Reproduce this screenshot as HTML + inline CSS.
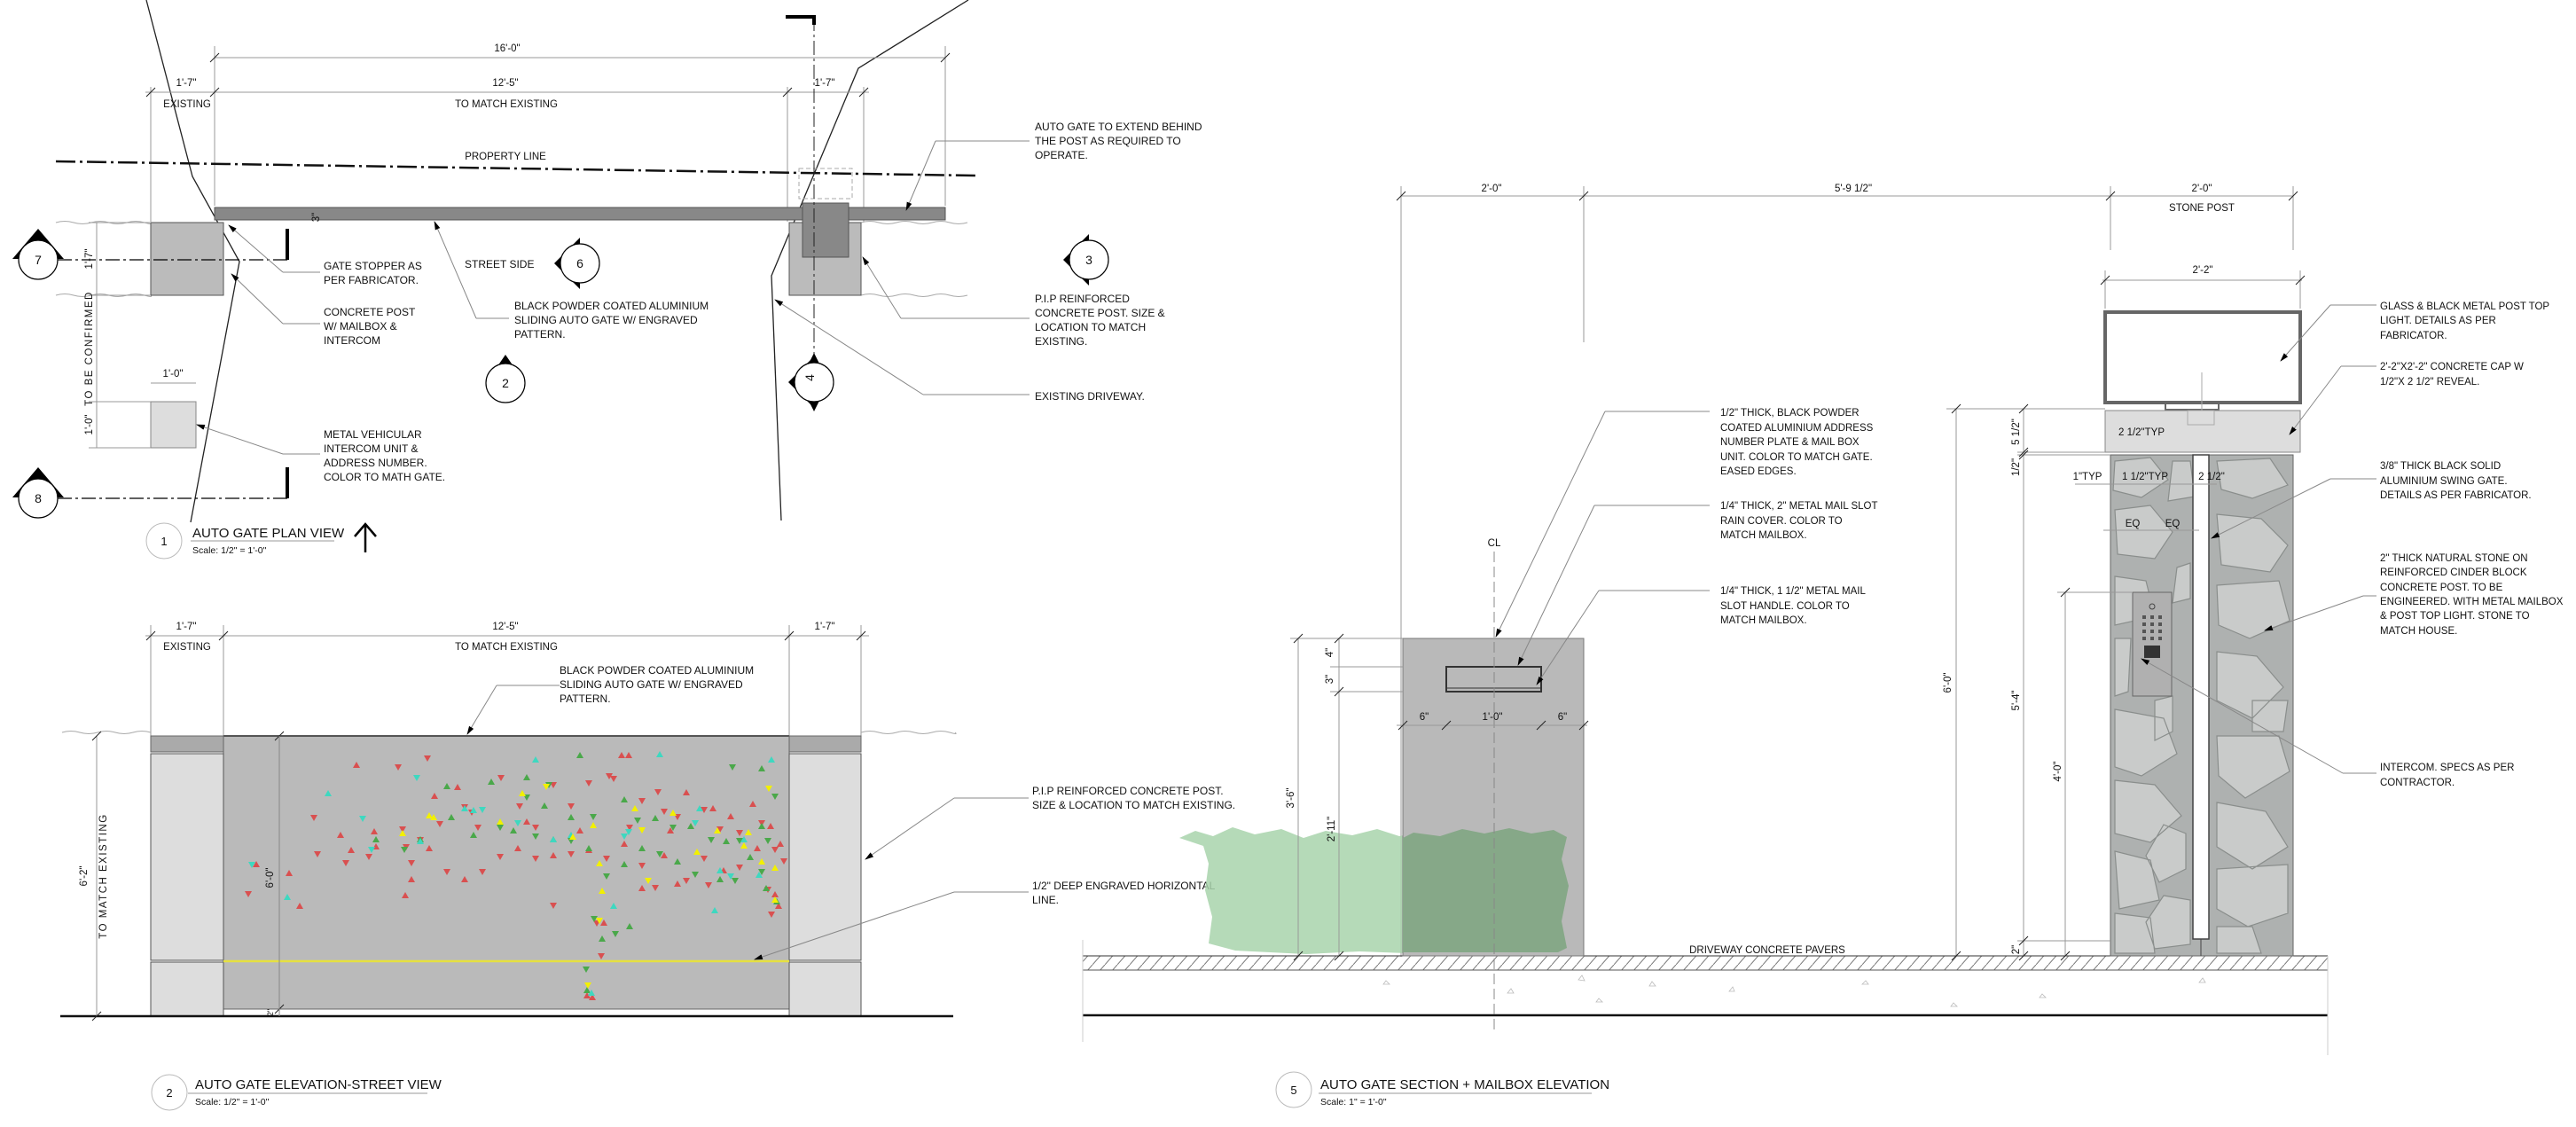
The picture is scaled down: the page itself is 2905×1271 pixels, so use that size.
<!DOCTYPE html>
<html><head><meta charset="utf-8"><style>
html,body{margin:0;padding:0;background:#fff;}
svg{display:block;}
text{font-family:"Liberation Sans Narrow","Liberation Sans",sans-serif;fill:#111;}
.t{font-size:12px;}
.s{font-size:11.5px;}
.d{font-size:11.5px;}
.ti{font-size:15px;}
</style></head><body>
<svg width="2905" height="1271" viewBox="0 0 2905 1271" xmlns="http://www.w3.org/2000/svg">
<defs>
<marker id="ar" viewBox="0 0 10 10" refX="9" refY="5" markerWidth="10" markerHeight="10" orient="auto-start-reverse"><path d="M0,2 L10,5 L0,8z" fill="#000"/></marker>
<pattern id="hatch" width="14" height="16" patternUnits="userSpaceOnUse"><path d="M0,16 L14,0" stroke="#777" stroke-width="1"/></pattern>
</defs>

<!-- ================= PLAN VIEW ================= -->
<g stroke="#222" fill="none" stroke-width="1">
<polyline points="165,0 217,199 270,295 215,589" stroke-width="1.3"/>
<polyline points="1092,0 968,77 870,311 881,587" stroke-width="1.3"/>
</g>
<g stroke="#999" stroke-width="1" fill="none">
<line x1="242" y1="52" x2="242" y2="232"/><line x1="1066" y1="52" x2="1066" y2="232"/>
<line x1="170" y1="98" x2="170" y2="250"/><line x1="888" y1="98" x2="888" y2="250"/><line x1="974" y1="98" x2="974" y2="250"/>
<line x1="242" y1="65" x2="1066" y2="65"/>
<line x1="164" y1="104" x2="980" y2="104"/>
</g>
<g stroke="#222" stroke-width="1">
<line x1="237" y1="70" x2="247" y2="60"/><line x1="1061" y1="70" x2="1071" y2="60"/>
<line x1="165" y1="109" x2="175" y2="99"/><line x1="237" y1="109" x2="247" y2="99"/><line x1="883" y1="109" x2="893" y2="99"/><line x1="969" y1="109" x2="979" y2="99"/>
</g>
<text class="d" x="572" y="58" text-anchor="middle">16'-0"</text>
<text class="d" x="210" y="97" text-anchor="middle">1'-7"</text>
<text class="d" x="211" y="121" text-anchor="middle">EXISTING</text>
<text class="d" x="570" y="97" text-anchor="middle">12'-5"</text>
<text class="d" x="571" y="121" text-anchor="middle">TO MATCH EXISTING</text>
<text class="d" x="930" y="97" text-anchor="middle">1'-7"</text>
<line x1="63" y1="182" x2="1101" y2="198" stroke="#111" stroke-width="2.5" stroke-dasharray="22,5,3,5"/>
<text class="d" x="570" y="180" text-anchor="middle">PROPERTY LINE</text>
<g stroke="#aaa" stroke-width="1" fill="none">
<path d="M63,251 q10,-3 20,0 t20,0 t20,0 t20,0 t20,0 t7,0"/>
<path d="M63,333 q10,-3 20,0 t20,0 t20,0 t20,0 t20,0 t7,0"/>
<path d="M971,251 q10,-3 20,0 t20,0 t20,0 t20,0 t20,0 t20,0"/>
<path d="M971,333 q10,-3 20,0 t20,0 t20,0 t20,0 t20,0 t20,0"/>
</g>
<rect x="170" y="251" width="82" height="82" fill="#bbb" stroke="#555"/>
<rect x="890" y="251" width="81" height="82" fill="#bbb" stroke="#555"/>
<rect x="901" y="190" width="60" height="34" fill="none" stroke="#aaa" stroke-dasharray="5,3"/>
<rect x="242" y="234" width="824" height="14" fill="#888" stroke="#555"/>
<rect x="905" y="229" width="52" height="61" fill="#888" stroke="#555"/>
<text class="d" x="360" y="245" transform="rotate(-90 360 245)" text-anchor="middle">3"</text>
<line x1="918" y1="19" x2="918" y2="420" stroke="#222" stroke-width="1" stroke-dasharray="16,4,3,4"/>
<polyline points="886,19 918,19 918,28" fill="none" stroke="#000" stroke-width="4"/>
<rect x="170" y="453" width="51" height="52" fill="#ddd" stroke="#888"/>
<line x1="170" y1="432" x2="221" y2="432" stroke="#999"/>
<text class="d" x="195" y="425" text-anchor="middle">1'-0"</text>
<line x1="109" y1="251" x2="109" y2="505" stroke="#999"/>
<g stroke="#999"><line x1="100" y1="251" x2="170" y2="251"/><line x1="100" y1="333" x2="170" y2="333"/><line x1="100" y1="453" x2="170" y2="453"/><line x1="100" y1="505" x2="170" y2="505"/></g>
<text class="d" x="104" y="292" transform="rotate(-90 104 292)" text-anchor="middle">1'-7"</text>
<text class="d" x="104" y="393" transform="rotate(-90 104 393)" text-anchor="middle" letter-spacing="1.5">TO BE CONFIRMED</text>
<text class="d" x="104" y="479" transform="rotate(-90 104 479)" text-anchor="middle">1'-0"</text>
<g stroke="#000" stroke-width="1.2" fill="#fff">
<line x1="65" y1="293" x2="324" y2="293" stroke-dasharray="16,4,3,4"/>
<line x1="324" y1="293" x2="324" y2="258" stroke-width="4"/>
<line x1="65" y1="562" x2="324" y2="562" stroke-dasharray="16,4,3,4"/>
<line x1="324" y1="562" x2="324" y2="527" stroke-width="4"/>
<path d="M14,292 L43,258 L72,292z" fill="#000" stroke="none"/>
<circle cx="43" cy="293" r="22"/>
<path d="M14,561 L43,527 L72,561z" fill="#000" stroke="none"/>
<circle cx="43" cy="562" r="22"/>
<path d="M625,297 L654,268 L654,326z" fill="#000" stroke="none"/>
<circle cx="654" cy="297" r="22"/>
<path d="M1199,293 L1228,264 L1228,322z" fill="#000" stroke="none"/>
<circle cx="1228" cy="293" r="22"/>
<path d="M548,432 L570,400 L592,432z" fill="#000" stroke="none"/>
<circle cx="570" cy="432" r="22"/>
<path d="M889,431 L918,402 L918,460z" fill="#000" stroke="none"/>
<path d="M912,410 L918,398 L924,410z M912,452 L918,464 L924,452z" fill="#000" stroke="none"/>
<circle cx="918" cy="431" r="22"/>
</g>
<g text-anchor="middle">
<text x="43" y="298" style="font-size:14px">7</text>
<text x="43" y="567" style="font-size:14px">8</text>
<text x="654" y="302" style="font-size:14px">6</text>
<text x="1228" y="298" style="font-size:14px">3</text>
<text x="570" y="437" style="font-size:14px">2</text>
<text x="923" y="431" transform="rotate(-90 918 431)" style="font-size:14px">4</text>
</g>
<g stroke="#888" stroke-width="1" fill="none">
<polyline points="319,307 361,307"/><line x1="319" y1="307" x2="258" y2="254" marker-end="url(#ar)"/>
<polyline points="319,365 361,365"/><line x1="319" y1="365" x2="261" y2="309" marker-end="url(#ar)"/>
<polyline points="537,359 574,359"/><line x1="537" y1="359" x2="490" y2="250" marker-end="url(#ar)"/>
<polyline points="1055,159 1161,159"/><line x1="1055" y1="159" x2="1022" y2="237" marker-end="url(#ar)"/>
<polyline points="1016,359 1161,359"/><line x1="1016" y1="359" x2="973" y2="290" marker-end="url(#ar)"/>
<polyline points="1041,445 1161,445"/><line x1="1041" y1="445" x2="874" y2="338" marker-end="url(#ar)"/>
<polyline points="319,512 361,512"/><line x1="319" y1="512" x2="222" y2="479" marker-end="url(#ar)"/>
</g>
<g class="t">
<text x="365" y="304">GATE STOPPER AS</text><text x="365" y="320">PER FABRICATOR.</text>
<text x="365" y="356">CONCRETE POST</text><text x="365" y="372">W/ MAILBOX &amp;</text><text x="365" y="388">INTERCOM</text>
<text x="580" y="349">BLACK POWDER COATED ALUMINIUM</text><text x="580" y="365">SLIDING AUTO GATE W/ ENGRAVED</text><text x="580" y="381">PATTERN.</text>
<text x="524" y="302">STREET SIDE</text>
<text x="1167" y="147">AUTO GATE TO EXTEND BEHIND</text><text x="1167" y="163">THE POST AS REQUIRED TO</text><text x="1167" y="179">OPERATE.</text>
<text x="1167" y="341">P.I.P REINFORCED</text><text x="1167" y="357">CONCRETE POST. SIZE &amp;</text><text x="1167" y="373">LOCATION TO MATCH</text><text x="1167" y="389">EXISTING.</text>
<text x="1167" y="451">EXISTING DRIVEWAY.</text>
<text x="365" y="494">METAL VEHICULAR</text><text x="365" y="510">INTERCOM UNIT &amp;</text><text x="365" y="526">ADDRESS NUMBER.</text><text x="365" y="542">COLOR TO MATH GATE.</text>
</g>
<circle cx="185" cy="610" r="20" fill="none" stroke="#bbb"/>
<text x="185" y="615" text-anchor="middle" style="font-size:13px">1</text>
<text x="217" y="606" class="ti">AUTO GATE PLAN VIEW</text>
<line x1="215" y1="610" x2="377" y2="610" stroke="#999"/>
<text x="217" y="624" style="font-size:10.5px">Scale: 1/2" = 1'-0"</text>
<line x1="412" y1="623" x2="412" y2="593" stroke="#000" stroke-width="2.5"/>
<polyline points="400,605 412,591 424,605" fill="none" stroke="#000" stroke-width="2.5"/>

<!-- ================= ELEVATION ================= -->
<g stroke="#999" stroke-width="1">
<line x1="164" y1="717" x2="980" y2="717"/>
<line x1="170" y1="705" x2="170" y2="830"/><line x1="252" y1="705" x2="252" y2="830"/><line x1="890" y1="705" x2="890" y2="830"/><line x1="971" y1="705" x2="971" y2="830"/>
</g>
<g stroke="#222"><line x1="165" y1="722" x2="175" y2="712"/><line x1="247" y1="722" x2="257" y2="712"/><line x1="885" y1="722" x2="895" y2="712"/><line x1="966" y1="722" x2="976" y2="712"/></g>
<text class="d" x="210" y="710" text-anchor="middle">1'-7"</text>
<text class="d" x="211" y="733" text-anchor="middle">EXISTING</text>
<text class="d" x="570" y="710" text-anchor="middle">12'-5"</text>
<text class="d" x="571" y="733" text-anchor="middle">TO MATCH EXISTING</text>
<text class="d" x="930" y="710" text-anchor="middle">1'-7"</text>
<g stroke="#aaa" fill="none"><path d="M70,826 q10,-3 20,0 t20,0 t20,0 t20,0 t20,0"/><path d="M971,826 q10,-3 20,0 t20,0 t20,0 t20,0 t20,0 t6,0"/></g>
<rect x="252" y="830" width="638" height="308" fill="#bababa" stroke="#666"/>
<line x1="252" y1="830" x2="890" y2="830" stroke="#555" stroke-width="2"/>
<rect x="170" y="830" width="82" height="18" fill="#aaa" stroke="#666"/>
<rect x="890" y="830" width="81" height="18" fill="#aaa" stroke="#666"/>
<rect x="170" y="850" width="82" height="233" fill="#ddd" stroke="#555"/>
<rect x="890" y="850" width="81" height="233" fill="#ddd" stroke="#555"/>
<rect x="170" y="1085" width="82" height="61" fill="#ddd" stroke="#555"/>
<rect x="890" y="1085" width="81" height="61" fill="#ddd" stroke="#555"/>
<line x1="252" y1="1084" x2="890" y2="1084" stroke="#e6e040" stroke-width="2.5"/>
<line x1="68" y1="1146" x2="1075" y2="1146" stroke="#111" stroke-width="2.5"/>
<path fill="#d95050" d="M285,978 l4,-7 l4,7z M398,866 l4,-7 l4,7z M445,862 l4,7 l4,-7z M478,852 l4,7 l4,-7z M486,901 l4,-7 l4,7z M492,926 l4,7 l4,-7z M350,919 l4,7 l4,-7z M418,941 l4,-7 l4,7z M450,932 l4,7 l4,-7z M454,952 l4,7 l4,-7z M470,944 l4,7 l4,-7z M512,891 l4,-7 l4,7z M520,907 l4,7 l4,-7z M528,913 l4,7 l4,-7z M535,930 l4,7 l4,-7z M561,874 l4,7 l4,-7z M582,906 l4,7 l4,-7z M590,930 l4,-7 l4,7z M600,930 l4,7 l4,-7z M620,882 l4,7 l4,-7z M640,906 l4,7 l4,-7z M650,940 l4,-7 l4,7z M660,880 l4,7 l4,-7z M683,872 l4,7 l4,-7z M688,875 l4,7 l4,-7z M697,855 l4,-7 l4,7z M705,855 l4,-7 l4,7z M720,900 l4,7 l4,-7z M738,890 l4,7 l4,-7z M745,912 l4,7 l4,-7z M760,918 l4,7 l4,-7z M770,897 l4,-7 l4,7z M790,910 l4,7 l4,-7z M800,915 l4,-7 l4,7z M808,932 l4,7 l4,-7z M820,924 l4,-7 l4,7z M830,936 l4,7 l4,-7z M845,910 l4,-7 l4,7z M855,925 l4,7 l4,-7z M865,935 l4,-7 l4,7z M870,955 l4,7 l4,-7z M850,960 l4,-7 l4,7z M830,975 l4,7 l4,-7z M812,985 l4,-7 l4,7z M790,965 l4,7 l4,-7z M770,990 l4,7 l4,-7z M745,968 l4,-7 l4,7z M720,973 l4,7 l4,-7z M700,955 l4,-7 l4,7z M680,965 l4,7 l4,-7z M660,962 l4,-7 l4,7z M640,960 l4,7 l4,-7z M620,968 l4,-7 l4,7z M600,965 l4,7 l4,-7z M580,960 l4,-7 l4,7z M560,963 l4,7 l4,-7z M540,980 l4,7 l4,-7z M520,995 l4,-7 l4,7z M500,980 l4,7 l4,-7z M480,960 l4,-7 l4,7z M460,970 l4,7 l4,-7z M460,995 l4,-7 l4,7z M420,958 l4,-7 l4,7z M412,963 l4,7 l4,-7z M392,962 l4,-7 l4,7z M386,970 l4,7 l4,-7z M380,945 l4,-7 l4,7z M354,960 l4,7 l4,-7z M322,988 l4,-7 l4,7z M453,1013 l4,-7 l4,7z M669,1038 l4,7 l4,-7z M677,1044 l4,-7 l4,7z M720,1005 l4,-7 l4,7z M735,998 l4,7 l4,-7z M760,1000 l4,-7 l4,7z M795,995 l4,7 l4,-7z M862,1000 l4,7 l4,-7z M870,1012 l4,-7 l4,7z M874,1025 l4,-7 l4,7z M866,1028 l4,7 l4,-7z M674,1075 l4,7 l4,-7z M334,1025 l4,-7 l4,7z M658,1126 l4,-7 l4,7z M664,1128 l4,-7 l4,7z M276,1005 l4,7 l4,-7z M620,1018 l4,7 l4,-7z M876,955 l4,-7 l4,7z M880,968 l4,7 l4,-7z M752,940 l4,-7 l4,7z M706,930 l4,7 l4,-7z"/>
<path fill="#4aa84a" d="M650,855 l4,-7 l4,7z M500,890 l4,-7 l4,7z M550,885 l4,-7 l4,7z M590,896 l4,7 l4,-7z M610,912 l4,-7 l4,7z M640,925 l4,-7 l4,7z M665,918 l4,7 l4,-7z M700,905 l4,-7 l4,7z M715,922 l4,7 l4,-7z M735,926 l4,-7 l4,7z M755,930 l4,7 l4,-7z M775,935 l4,-7 l4,7z M798,944 l4,7 l4,-7z M815,952 l4,-7 l4,7z M830,945 l4,7 l4,-7z M855,935 l4,-7 l4,7z M862,945 l4,7 l4,-7z M855,980 l4,7 l4,-7z M842,970 l4,-7 l4,7z M825,990 l4,7 l4,-7z M808,995 l4,-7 l4,7z M780,983 l4,7 l4,-7z M760,975 l4,-7 l4,7z M740,960 l4,7 l4,-7z M720,960 l4,-7 l4,7z M700,978 l4,-7 l4,7z M680,985 l4,7 l4,-7z M660,960 l4,-7 l4,7z M640,945 l4,7 l4,-7z M620,950 l4,-7 l4,7z M600,940 l4,7 l4,-7z M575,940 l4,-7 l4,7z M560,930 l4,7 l4,-7z M530,945 l4,-7 l4,7z M505,925 l4,-7 l4,7z M470,950 l4,-7 l4,7z M452,955 l4,7 l4,-7z M420,950 l4,-7 l4,7z M706,1048 l4,-7 l4,7z M690,1050 l4,7 l4,-7z M666,1033 l4,7 l4,-7z M675,1062 l4,-7 l4,7z M860,1005 l4,-7 l4,7z M872,1020 l4,-7 l4,7z M822,862 l4,7 l4,-7z M855,870 l4,-7 l4,7z M870,895 l4,7 l4,-7z M658,1120 l4,-7 l4,7z M657,1090 l4,7 l4,-7z M615,882 l4,7 l4,-7z M590,880 l4,-7 l4,7z"/>
<path fill="#3ed8c0" d="M600,860 l4,-7 l4,7z M740,854 l4,-7 l4,7z M866,860 l4,-7 l4,7z M366,898 l4,-7 l4,7z M405,920 l4,7 l4,-7z M466,874 l4,7 l4,-7z M520,915 l4,-7 l4,7z M530,917 l4,-7 l4,7z M560,930 l4,-7 l4,7z M580,925 l4,7 l4,-7z M620,950 l4,-7 l4,7z M640,945 l4,-7 l4,7z M700,940 l4,7 l4,-7z M705,935 l4,7 l4,-7z M785,915 l4,-7 l4,7z M780,925 l4,7 l4,-7z M835,950 l4,-7 l4,7z M808,985 l4,-7 l4,7z M820,985 l4,7 l4,-7z M470,952 l4,-7 l4,7z M415,955 l4,7 l4,-7z M280,972 l4,7 l4,-7z M320,1015 l4,-7 l4,7z M688,1025 l4,-7 l4,7z M802,1030 l4,-7 l4,7z M663,1123 l4,-7 l4,7z M540,910 l4,7 l4,-7z M852,990 l4,-7 l4,7z"/>
<path fill="#f2f000" d="M612,884 l4,7 l4,-7z M863,886 l4,7 l4,-7z M585,898 l4,-7 l4,7z M665,934 l4,-7 l4,7z M560,930 l4,-7 l4,7z M480,923 l4,-7 l4,7z M485,925 l4,-7 l4,7z M450,943 l4,-7 l4,7z M642,947 l4,-7 l4,7z M712,915 l4,-7 l4,7z M720,933 l4,7 l4,-7z M755,920 l4,-7 l4,7z M805,940 l4,-7 l4,7z M840,942 l4,-7 l4,7z M835,957 l4,-7 l4,7z M855,975 l4,-7 l4,7z M870,982 l4,-7 l4,7z M782,964 l4,-7 l4,7z M672,977 l4,-7 l4,7z M675,1008 l4,-7 l4,7z M727,990 l4,7 l4,-7z M672,1035 l4,7 l4,-7z M870,1018 l4,-7 l4,7z M659,1108 l4,7 l4,-7z"/>
<line x1="109" y1="830" x2="109" y2="1146" stroke="#999"/>
<g stroke="#222"><line x1="104" y1="835" x2="114" y2="825"/><line x1="104" y1="1151" x2="114" y2="1141"/><line x1="310" y1="835" x2="320" y2="825"/><line x1="310" y1="1143" x2="320" y2="1133"/></g>
<text class="d" x="98" y="988" transform="rotate(-90 98 988)" text-anchor="middle">6'-2"</text>
<text class="d" x="120" y="988" transform="rotate(-90 120 988)" text-anchor="middle" letter-spacing="1.5">TO MATCH EXISTING</text>
<line x1="315" y1="830" x2="315" y2="1146" stroke="#888"/>
<text class="d" x="308" y="990" transform="rotate(-90 308 990)" text-anchor="middle">6'-0"</text>
<text x="308" y="1142" transform="rotate(-90 308 1142)" text-anchor="middle" style="font-size:9px">2"</text>
<g stroke="#888" fill="none">
<polyline points="631,773 560,773"/><line x1="560" y1="773" x2="527" y2="828" marker-end="url(#ar)"/>
<polyline points="1160,900 1076,900"/><line x1="1076" y1="900" x2="976" y2="969" marker-end="url(#ar)"/>
<polyline points="1160,1006 1076,1006"/><line x1="1076" y1="1006" x2="851" y2="1082" marker-end="url(#ar)"/>
</g>
<g class="t">
<text x="631" y="760">BLACK POWDER COATED ALUMINIUM</text><text x="631" y="776">SLIDING AUTO GATE W/ ENGRAVED</text><text x="631" y="792">PATTERN.</text>
<text x="1164" y="896">P.I.P REINFORCED CONCRETE POST.</text><text x="1164" y="912">SIZE &amp; LOCATION TO MATCH EXISTING.</text>
<text x="1164" y="1003">1/2" DEEP ENGRAVED HORIZONTAL</text><text x="1164" y="1019">LINE.</text>
</g>
<circle cx="191" cy="1232" r="20" fill="none" stroke="#bbb"/>
<text x="191" y="1237" text-anchor="middle" style="font-size:13px">2</text>
<text x="220" y="1228" class="ti">AUTO GATE ELEVATION-STREET VIEW</text>
<line x1="212" y1="1233" x2="482" y2="1233" stroke="#999"/>
<text x="220" y="1246" style="font-size:10.5px">Scale: 1/2" = 1'-0"</text>

<!-- ================= SECTION ================= -->
<g stroke="#999" stroke-width="1">
<line x1="1580" y1="221" x2="2586" y2="221"/>
<line x1="1580" y1="210" x2="1580" y2="1079"/>
<line x1="1786" y1="210" x2="1786" y2="386"/>
<line x1="2380" y1="210" x2="2380" y2="282"/>
<line x1="2586" y1="210" x2="2586" y2="282"/>
<line x1="2371" y1="316" x2="2596" y2="316"/>
<line x1="2374" y1="305" x2="2374" y2="348"/><line x1="2594" y1="305" x2="2594" y2="348"/>
</g>
<g stroke="#222"><line x1="1575" y1="226" x2="1585" y2="216"/><line x1="1781" y1="226" x2="1791" y2="216"/><line x1="2375" y1="226" x2="2385" y2="216"/><line x1="2581" y1="226" x2="2591" y2="216"/><line x1="2369" y1="321" x2="2379" y2="311"/><line x1="2589" y1="321" x2="2599" y2="311"/></g>
<text class="d" x="1682" y="216" text-anchor="middle">2'-0"</text>
<text class="d" x="2090" y="216" text-anchor="middle">5'-9 1/2"</text>
<text class="d" x="2483" y="216" text-anchor="middle">2'-0"</text>
<text class="d" x="2483" y="238" text-anchor="middle">STONE POST</text>
<text class="d" x="2484" y="308" text-anchor="middle">2'-2"</text>
<rect x="1221" y="1078" width="1404" height="16" fill="url(#hatch)"/>
<line x1="1221" y1="1078" x2="2625" y2="1078" stroke="#333"/>
<line x1="1221" y1="1094" x2="2625" y2="1094" stroke="#555"/>
<line x1="1221" y1="1145" x2="2625" y2="1145" stroke="#111" stroke-width="2.5"/>
<line x1="1221" y1="1060" x2="1221" y2="1175" stroke="#ccc"/>
<line x1="2625" y1="1078" x2="2625" y2="1190" stroke="#ccc"/>
<g fill="none" stroke="#bbb" stroke-width="0.8">
<path d="M1780,1105 l4,-5 l3,6z M1860,1112 l3,-5 l4,5z M1950,1118 l4,-5 l2,5z M1800,1130 l3,-4 l4,4z M2100,1110 l4,-4 l3,4z M2300,1125 l3,-4 l4,4z M1700,1120 l4,-5 l3,5z M1560,1110 l3,-4 l4,4z M2480,1108 l4,-5 l3,5z M2200,1135 l3,-4 l4,4z"/>
</g>
<text class="d" x="1993" y="1075" text-anchor="middle">DRIVEWAY CONCRETE PAVERS</text>
<path d="M1330,945 l18,-8 l20,6 l22,-10 l25,8 l30,-6 l25,10 l25,-8 l30,5 l28,-7 l25,8 l30,-6 l30,4 l28,-6 l25,6 l25,-4 l15,8 l-6,25 l8,30 l-8,40 l6,30 l-18,8 l-40,-6 l-60,4 l-80,-3 l-60,3 l-80,-4 l-30,-8 l4,-30 l-8,-30 l4,-30 l-6,-20z" fill="#a8d4ac" opacity="0.85"/>
<rect x="1582" y="720" width="204" height="358" fill="#b9b9b9" stroke="#777"/>
<path d="M1582,945 l12,-6 l30,4 l25,-8 l25,5 l28,-6 l25,6 l25,-4 l15,8 l-6,25 l8,30 l-8,40 l6,30 l-10,5 l-175,0z" fill="#86a888"/>
<rect x="1631" y="752" width="107" height="28" fill="none" stroke="#333" stroke-width="2"/>
<line x1="1631" y1="776" x2="1738" y2="776" stroke="#333"/>
<line x1="1685" y1="622" x2="1685" y2="1161" stroke="#888" stroke-dasharray="12,5"/>
<text class="d" x="1685" y="616" text-anchor="middle">CL</text>
<g stroke="#999"><line x1="1464" y1="720" x2="1464" y2="1078"/><line x1="1510" y1="720" x2="1510" y2="1078"/><line x1="1455" y1="720" x2="1582" y2="720"/><line x1="1500" y1="752" x2="1582" y2="752"/><line x1="1500" y1="780" x2="1582" y2="780"/><line x1="1575" y1="818" x2="1790" y2="818"/></g>
<g stroke="#222"><line x1="1459" y1="725" x2="1469" y2="715"/><line x1="1505" y1="725" x2="1515" y2="715"/><line x1="1505" y1="785" x2="1515" y2="775"/><line x1="1459" y1="1083" x2="1469" y2="1073"/><line x1="1505" y1="1083" x2="1515" y2="1073"/><line x1="1577" y1="823" x2="1587" y2="813"/><line x1="1626" y1="823" x2="1636" y2="813"/><line x1="1733" y1="823" x2="1743" y2="813"/><line x1="1781" y1="823" x2="1791" y2="813"/></g>
<text class="d" x="1503" y="736" transform="rotate(-90 1503 736)" text-anchor="middle">4"</text>
<text class="d" x="1503" y="766" transform="rotate(-90 1503 766)" text-anchor="middle">3"</text>
<text class="d" x="1459" y="900" transform="rotate(-90 1459 900)" text-anchor="middle">3'-6"</text>
<text class="d" x="1505" y="935" transform="rotate(-90 1505 935)" text-anchor="middle">2'-11"</text>
<text class="d" x="1606" y="812" text-anchor="middle">6"</text>
<text class="d" x="1683" y="812" text-anchor="middle">1'-0"</text>
<text class="d" x="1762" y="812" text-anchor="middle">6"</text>
<rect x="2374" y="352" width="220" height="102" fill="#fff" stroke="#666" stroke-width="4"/>
<path d="M2442,454 v8 h60 v-8" fill="none" stroke="#666" stroke-width="2"/>
<rect x="2374" y="463" width="220" height="47" fill="#ddd" stroke="#888"/>
<rect x="2467" y="463" width="30" height="16" fill="none" stroke="#aaa"/>
<line x1="2483" y1="420" x2="2483" y2="463" stroke="#aaa"/>
<rect x="2380" y="513" width="206" height="565" fill="#aeb1b0" stroke="#666"/>
<g fill="#c9cbca" stroke="#8a8e8c" stroke-width="1.2">
<path d="M2385,520 l40,-4 l20,25 l-30,20 l-32,-8z M2450,520 l20,0 l5,40 l-30,5z M2500,520 l60,-3 l20,30 l-40,15 l-35,-10z M2385,575 l40,-5 l25,30 l-20,30 l-42,-5z M2500,580 l50,5 l30,30 l-20,30 l-55,-8z M2385,650 l35,5 l10,40 l-45,10z M2500,660 l70,-5 l12,45 l-45,20 l-35,-15z M2455,640 l15,-5 l0,40 l-20,5z M2385,720 l18,0 l-3,60 l-15,5z M2500,735 l45,5 l30,35 l-35,35 l-40,-20z M2385,800 l55,10 l15,40 l-40,25 l-30,-10z M2500,830 l70,0 l12,40 l-50,30 l-30,-25z M2385,880 l45,5 l30,35 l-35,30 l-40,-10z M2500,905 l55,10 l25,40 l-40,25 l-40,-25z M2440,930 l25,10 l0,40 l-30,15 l-15,-30z M2385,960 l40,10 l10,45 l-45,10z M2500,980 l80,-5 l0,55 l-45,15 l-35,-20z M2440,1010 l30,5 l0,50 l-40,5 l-10,-30z M2385,1030 l40,5 l5,40 l-45,0z M2500,1045 l40,0 l10,30 l-50,0z M2430,790 l20,-5 l0,40 l-20,10z M2540,790 l40,0 l-5,35 l-35,0z"/>
</g>
<rect x="2473" y="513" width="18" height="546" fill="#fff" stroke="#444" stroke-width="1.5"/>
<line x1="2482" y1="1059" x2="2482" y2="1078" stroke="#444"/>
<rect x="2405" y="668" width="44" height="117" fill="#b0b0b0" stroke="#666"/>
<circle cx="2427" cy="684" r="3" fill="none" stroke="#444"/>
<g fill="#555"><rect x="2416" y="694" width="4" height="4"/><rect x="2425" y="694" width="4" height="4"/><rect x="2434" y="694" width="4" height="4"/><rect x="2416" y="702" width="4" height="4"/><rect x="2425" y="702" width="4" height="4"/><rect x="2434" y="702" width="4" height="4"/><rect x="2416" y="710" width="4" height="4"/><rect x="2425" y="710" width="4" height="4"/><rect x="2434" y="710" width="4" height="4"/><rect x="2416" y="718" width="4" height="4"/><rect x="2425" y="718" width="4" height="4"/><rect x="2434" y="718" width="4" height="4"/></g>
<rect x="2418" y="728" width="18" height="14" fill="#333"/>
<g stroke="#999"><line x1="2206" y1="461" x2="2206" y2="1078"/><line x1="2282" y1="461" x2="2282" y2="1078"/><line x1="2329" y1="668" x2="2329" y2="1078"/><line x1="2195" y1="461" x2="2374" y2="461"/><line x1="2275" y1="510" x2="2374" y2="510"/><line x1="2275" y1="513" x2="2380" y2="513"/><line x1="2275" y1="1061" x2="2380" y2="1061"/><line x1="2320" y1="668" x2="2405" y2="668"/><line x1="2340" y1="546" x2="2500" y2="546"/><line x1="2372" y1="598" x2="2480" y2="598"/></g>
<g stroke="#222"><line x1="2201" y1="466" x2="2211" y2="456"/><line x1="2201" y1="1083" x2="2211" y2="1073"/><line x1="2277" y1="466" x2="2287" y2="456"/><line x1="2277" y1="515" x2="2287" y2="505"/><line x1="2277" y1="518" x2="2287" y2="508"/><line x1="2277" y1="1066" x2="2287" y2="1056"/><line x1="2277" y1="1083" x2="2287" y2="1073"/><line x1="2324" y1="673" x2="2334" y2="663"/><line x1="2324" y1="1083" x2="2334" y2="1073"/></g>
<text class="d" x="2200" y="770" transform="rotate(-90 2200 770)" text-anchor="middle">6'-0"</text>
<text class="d" x="2277" y="487" transform="rotate(-90 2277 487)" text-anchor="middle">5 1/2"</text>
<text class="d" x="2277" y="527" transform="rotate(-90 2277 527)" text-anchor="middle">1/2"</text>
<text class="d" x="2277" y="790" transform="rotate(-90 2277 790)" text-anchor="middle">5'-4"</text>
<text class="d" x="2277" y="1071" transform="rotate(-90 2277 1071)" text-anchor="middle">2"</text>
<text class="d" x="2324" y="870" transform="rotate(-90 2324 870)" text-anchor="middle">4'-0"</text>
<text class="d" x="2415" y="491" text-anchor="middle">2 1/2"TYP</text>
<text class="d" x="2354" y="541" text-anchor="middle">1"TYP</text>
<text class="d" x="2419" y="541" text-anchor="middle">1 1/2"TYP</text>
<text class="d" x="2494" y="541" text-anchor="middle">2 1/2"</text>
<text class="d" x="2405" y="594" text-anchor="middle">EQ</text>
<text class="d" x="2450" y="594" text-anchor="middle">EQ</text>
<g stroke="#888" fill="none">
<polyline points="1928,464 1810,464"/><line x1="1810" y1="464" x2="1687" y2="718" marker-end="url(#ar)"/>
<polyline points="1928,570 1798,570"/><line x1="1798" y1="570" x2="1712" y2="750" marker-end="url(#ar)"/>
<polyline points="1928,666 1803,666"/><line x1="1803" y1="666" x2="1733" y2="772" marker-end="url(#ar)"/>
<polyline points="2680,344 2628,344"/><line x1="2628" y1="344" x2="2572" y2="407" marker-end="url(#ar)"/>
<polyline points="2680,413 2640,413"/><line x1="2640" y1="413" x2="2582" y2="490" marker-end="url(#ar)"/>
<polyline points="2680,540 2628,540"/><line x1="2628" y1="540" x2="2494" y2="607" marker-end="url(#ar)"/>
<polyline points="2680,672 2665,672"/><line x1="2665" y1="672" x2="2554" y2="711" marker-end="url(#ar)"/>
<polyline points="2680,872 2642,872"/><line x1="2642" y1="872" x2="2415" y2="743" marker-end="url(#ar)"/>
</g>
<g class="s">
<text x="1940" y="469">1/2" THICK, BLACK POWDER</text><text x="1940" y="486">COATED ALUMINIUM ADDRESS</text><text x="1940" y="502">NUMBER PLATE &amp; MAIL BOX</text><text x="1940" y="519">UNIT. COLOR TO MATCH GATE.</text><text x="1940" y="535">EASED EDGES.</text>
<text x="1940" y="574">1/4" THICK, 2" METAL MAIL SLOT</text><text x="1940" y="591">RAIN COVER. COLOR TO</text><text x="1940" y="607">MATCH MAILBOX.</text>
<text x="1940" y="670">1/4" THICK, 1 1/2" METAL MAIL</text><text x="1940" y="687">SLOT HANDLE. COLOR TO</text><text x="1940" y="703">MATCH MAILBOX.</text>
<text x="2684" y="349">GLASS &amp; BLACK METAL POST TOP</text><text x="2684" y="365">LIGHT. DETAILS AS PER</text><text x="2684" y="382">FABRICATOR.</text>
<text x="2684" y="417">2'-2"X2'-2" CONCRETE CAP W</text><text x="2684" y="434">1/2"X 2 1/2" REVEAL.</text>
<text x="2684" y="529">3/8" THICK BLACK SOLID</text><text x="2684" y="546">ALUMINIUM SWING GATE.</text><text x="2684" y="562">DETAILS AS PER FABRICATOR.</text>
<text x="2684" y="633">2" THICK NATURAL STONE ON</text><text x="2684" y="649">REINFORCED CINDER BLOCK</text><text x="2684" y="666">CONCRETE POST. TO BE</text><text x="2684" y="682">ENGINEERED. WITH METAL MAILBOX</text><text x="2684" y="698">&amp; POST TOP LIGHT. STONE TO</text><text x="2684" y="715">MATCH HOUSE.</text>
<text x="2684" y="869">INTERCOM. SPECS AS PER</text><text x="2684" y="886">CONTRACTOR.</text>
</g>
<circle cx="1459" cy="1229" r="20" fill="none" stroke="#bbb"/>
<text x="1459" y="1234" text-anchor="middle" style="font-size:13px">5</text>
<text x="1489" y="1228" class="ti">AUTO GATE SECTION + MAILBOX ELEVATION</text>
<line x1="1487" y1="1233" x2="1795" y2="1233" stroke="#999"/>
<text x="1489" y="1246" style="font-size:10.5px">Scale: 1" = 1'-0"</text>
</svg>
</body></html>
